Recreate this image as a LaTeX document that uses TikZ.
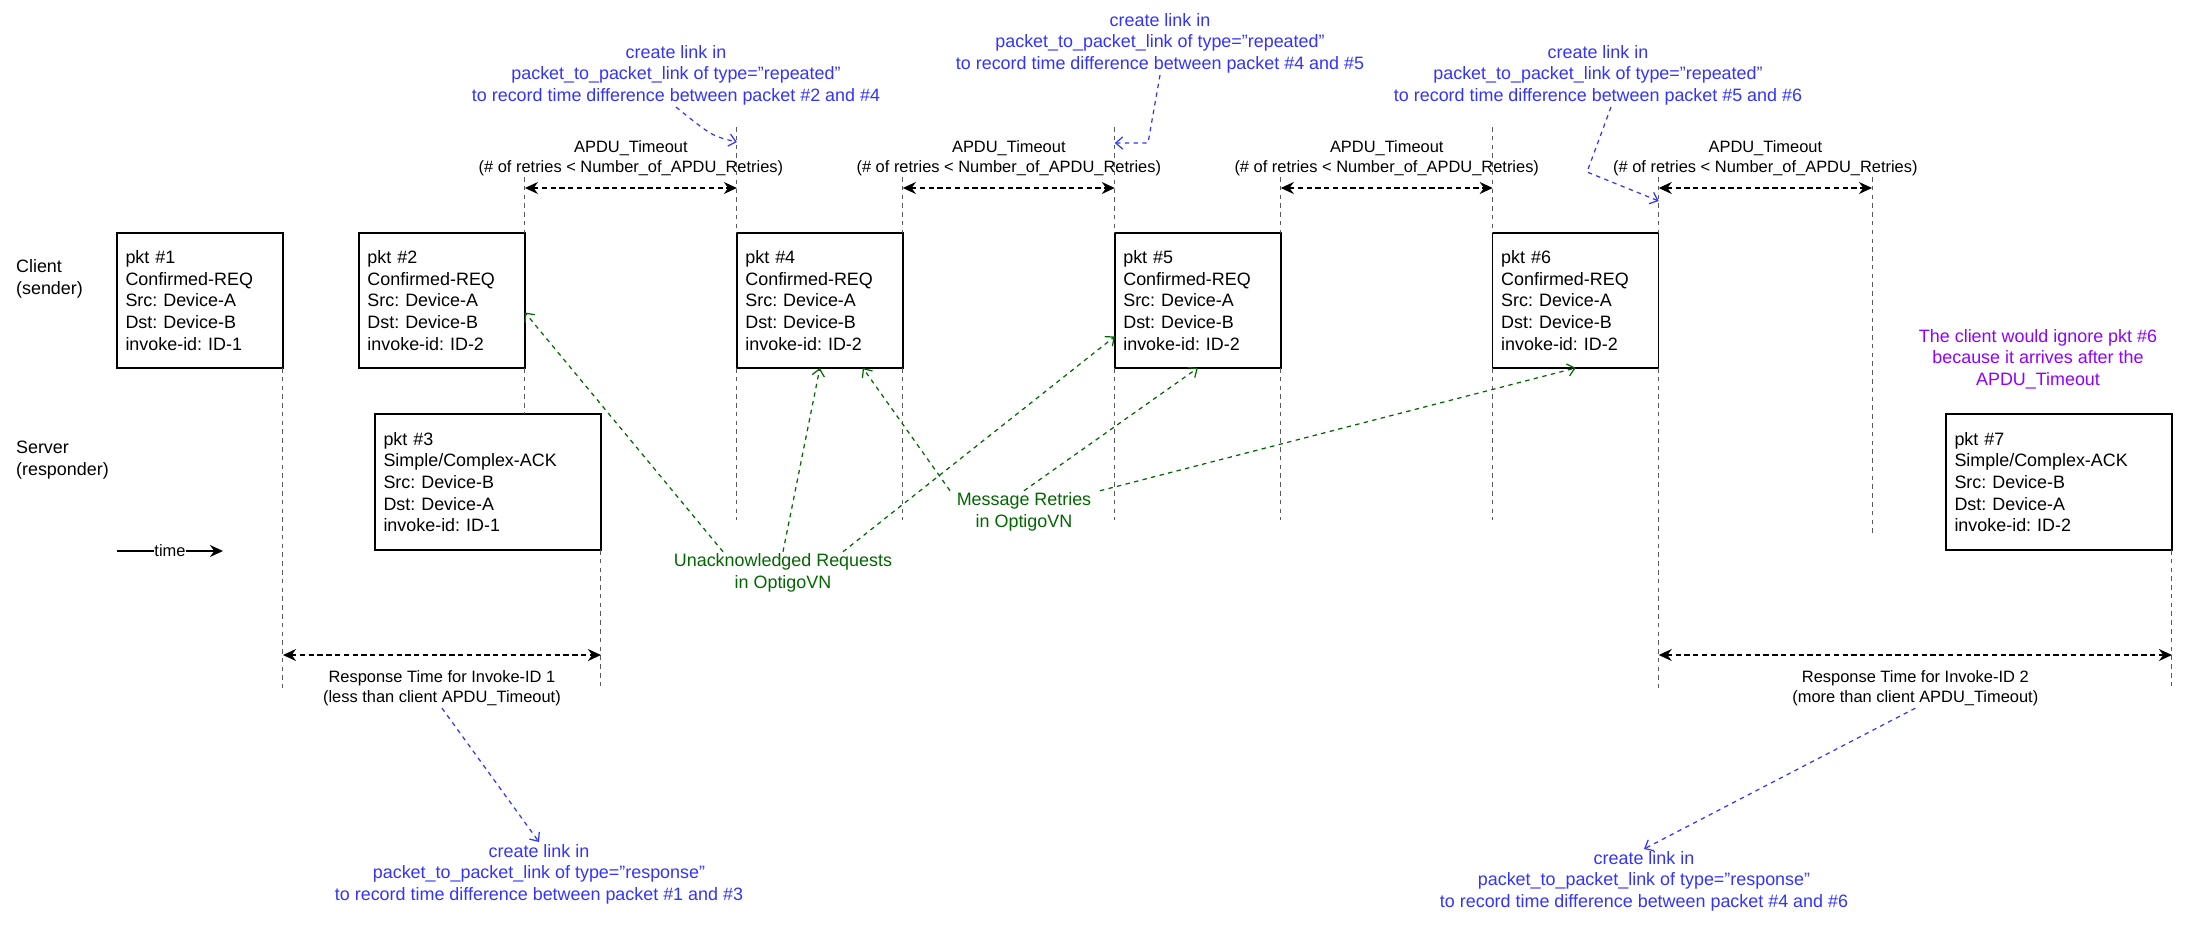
\documentclass[tikz,border=0pt]{standalone}
\usepackage{fontspec}
\setmainfont{Liberation Sans}
\usepackage{xcolor}
\usepackage{tikz}
\usetikzlibrary{arrows.meta,positioning}
\definecolor{pkInk}{HTML}{000000}
\definecolor{pkLife}{HTML}{5A5A5A}
\definecolor{pkBlue}{HTML}{3333FF}
\definecolor{pkGreen}{HTML}{006600}
\definecolor{pkPurple}{HTML}{9000FF}
\newcommand{\pktfont}{\fontsize{10.2pt}{12.3pt}\selectfont}
\newcommand{\dimfont}{\fontsize{9.35pt}{11.2pt}\selectfont}
\newcommand{\dq}{\symbol{34}}
\frenchspacing
\tikzset{
  % Client request packet
  reqbox/.style={rectangle,draw=pkInk,line width=0.85pt,outer sep=0pt,
    text width=2.98cm,minimum width=3.32cm,minimum height=2.7cm,
    inner xsep=0.17cm,align=left,font=\pktfont,text=pkInk,anchor=north west},
  % Server answer packet
  ackbox/.style={reqbox,text width=4.18cm,minimum width=4.52cm,
    minimum height=2.72cm},
  % Row labels on the left
  side/.style={anchor=west,align=left,inner sep=1pt,font=\pktfont},
  % Lifelines
  life/.style={draw=pkLife,line width=0.55pt,dash pattern=on 2.6pt off 2.4pt},
  % Timeout / response spans
  span/.style={{Stealth[length=7.4pt,width=6.8pt,inset=2.4pt]}-{Stealth[length=7.4pt,width=6.8pt,inset=2.4pt]},
    draw=pkInk,line width=1pt,dash pattern=on 3pt off 2pt},
  spanlbl/.style={align=center,inner sep=1pt,font=\dimfont,text=pkInk},
  % Blue notes
  note/.style={align=center,inner sep=1pt,font=\pktfont,text=pkBlue},
  noteArr/.style={-{Straight Barb[length=4pt,width=7pt]},draw=pkBlue,
    line width=0.7pt,dash pattern=on 2.5pt off 2.5pt},
  % Green notes
  gnote/.style={align=center,inner sep=1pt,font=\pktfont,text=pkGreen},
  gArr/.style={-{Straight Barb[length=4pt,width=7pt]},draw=pkGreen,
    line width=0.7pt,dash pattern=on 2.5pt off 2.5pt},
  % Time axis
  timeArr/.style={-{Stealth[length=7.4pt,width=6.8pt,inset=2.4pt]},draw=pkInk,line width=0.85pt},
}

\begin{document}
\begin{tikzpicture}[x=0.02cm,y=-0.02cm]
  \useasboundingbox (0,0) rectangle (2202,924);

  % rows
  \node[side] (client) at (14,279) {Client\\(sender)};
  \node[side] (server) at (14,460) {Server\\(responder)};

  % packets
  \node[reqbox] (p1) at (117,233)
    {pkt \#1\\Confirmed-REQ\\Src: Device-A\\Dst: Device-B\\invoke-id: ID-1};
  \node[reqbox,right=1.52cm of p1] (p2)
    {pkt \#2\\Confirmed-REQ\\Src: Device-A\\Dst: Device-B\\invoke-id: ID-2};
  \node[ackbox] (p3) at (375,414)
    {pkt \#3\\Simple/Complex-ACK\\Src: Device-B\\Dst: Device-A\\invoke-id: ID-1};
  \node[reqbox,right=4.24cm of p2] (p4)
    {pkt \#4\\Confirmed-REQ\\Src: Device-A\\Dst: Device-B\\invoke-id: ID-2};
  \node[reqbox,right=4.24cm of p4] (p5)
    {pkt \#5\\Confirmed-REQ\\Src: Device-A\\Dst: Device-B\\invoke-id: ID-2};
  \node[reqbox,right=4.24cm of p5] (p6)
    {pkt \#6\\Confirmed-REQ\\Src: Device-A\\Dst: Device-B\\invoke-id: ID-2};
  \node[ackbox] (p7) at (1946,414)
    {pkt \#7\\Simple/Complex-ACK\\Src: Device-B\\Dst: Device-A\\invoke-id: ID-2};

  % levels
  \coordinate (ytopA) at (0,127);
  \coordinate (ytopB) at (0,177);
  \coordinate (yspan) at (0,188);
  \coordinate (ymid) at (0,520);
  \coordinate (yresp) at (0,655);
  \coordinate (yend) at (0,688);
  \coordinate (late) at (1872,177);
  \coordinate (lateEnd) at (1872,535);

  % lifelines
  \draw[life] (p1.south east) -- (p1.south east |- yend);
  \draw[life] (p2.north east |- ytopB) -- (p2.north east);
  \draw[life] (p2.south east) -- (p2.south east |- p3.north);
  \draw[life] (p3.south east) -- (p3.south east |- yend);
  \foreach \p in {p4,p5,p6} {
    \draw[life] (\p.north west |- ytopA) -- (\p.north west);
    \draw[life] (\p.north east |- ytopB) -- (\p.north east);
    \draw[life] (\p.south west) -- (\p.south west |- ymid);
  }
  \foreach \p in {p4,p5}
    \draw[life] (\p.south east) -- (\p.south east |- ymid);
  \draw[life] (p6.south east) -- (p6.south east |- yend);
  \draw[life] (late) -- (lateEnd);
  \draw[life] (p7.south east) -- (p7.south east |- yend);

  % timeouts
  \foreach \from/\to in {p2.north east/p4.north west,p4.north east/p5.north west,
                         p5.north east/p6.north west,p6.north east/late}
    \draw[span] (\from |- yspan) -- node[spanlbl,yshift=0.6cm]
      {APDU\_Timeout\\(\# of retries < Number\_of\_APDU\_Retries)} (\to |- yspan);

  % response times
  \draw[span] (p1.south east |- yresp) -- node[spanlbl,yshift=-0.66cm] (r1)
    {Response Time for Invoke-ID 1\\(less than client APDU\_Timeout)} (p3.south east |- yresp);
  \draw[span] (p6.south east |- yresp) -- node[spanlbl,yshift=-0.66cm] (r2)
    {Response Time for Invoke-ID 2\\(more than client APDU\_Timeout)} (p7.south east |- yresp);

  % time axis
  \coordinate (t0) at (117,551);
  \coordinate (t1) at (223,551);
  \draw[timeArr] (t0) -- node[fill=white,inner sep=0.5pt,font=\dimfont] (tl) {time} (t1);

  % blue notes
  \node[note] (nA) at (676,75)
    {create link in\\packet\_to\_packet\_link of type=\dq repeated\dq\\to record time difference between packet \#2 and \#4};
  \node[note] (nB) at (1160,43)
    {create link in\\packet\_to\_packet\_link of type=\dq repeated\dq\\to record time difference between packet \#4 and \#5};
  \node[note] (nC) at (1598,75)
    {create link in\\packet\_to\_packet\_link of type=\dq repeated\dq\\to record time difference between packet \#5 and \#6};
  \node[note] (nD) at (539,874)
    {create link in\\packet\_to\_packet\_link of type=\dq response\dq\\to record time difference between packet \#1 and \#3};
  \node[note] (nE) at (1644,881)
    {create link in\\packet\_to\_packet\_link of type=\dq response\dq\\to record time difference between packet \#4 and \#6};

  \coordinate (yA) at (0,142);
  \coordinate (yB) at (0,143);
  \coordinate (yC) at (0,201);
  \draw[noteArr] (nA.south) .. controls (712,136) .. (p4.north west |- yA);
  \draw[noteArr] (nB.south) -- (1148,143) -- (p5.north west |- yB);
  \draw[noteArr] ([xshift=0.26cm]nC.south) -- (1587,172) -- (p6.north east |- yC);
  \draw[noteArr] (r1.south) -- (nD.north);
  \draw[noteArr] (r2.south) -- (nE.north);

  % purple note
  \node[note,text=pkPurple] (ignore) at (2038,359)
    {The client would ignore pkt \#6\\because it arrives after the\\APDU\_Timeout};

  % green notes
  \node[gnote] (unack) at (783,573) {Unacknowledged Requests\\in OptigoVN};
  \node[gnote] (retry) at (1024,512) {Message Retries\\in OptigoVN};

  \draw[gArr] ([xshift=-1.2cm]unack.north) -- ([yshift=-0.24cm]p2.east);
  \draw[gArr] (unack.north) -- (p4.south);
  \draw[gArr] ([xshift=1.2cm]unack.north) -- ([yshift=-0.72cm]p5.west);
  \draw[gArr] ([xshift=-1.48cm]retry.north) -- ([xshift=0.86cm]p4.south);
  \draw[gArr] (retry.north) -- (p5.south);
  \draw[gArr] ([xshift=1.52cm]retry.north) -- (p6.south);

\end{tikzpicture}
\end{document}
